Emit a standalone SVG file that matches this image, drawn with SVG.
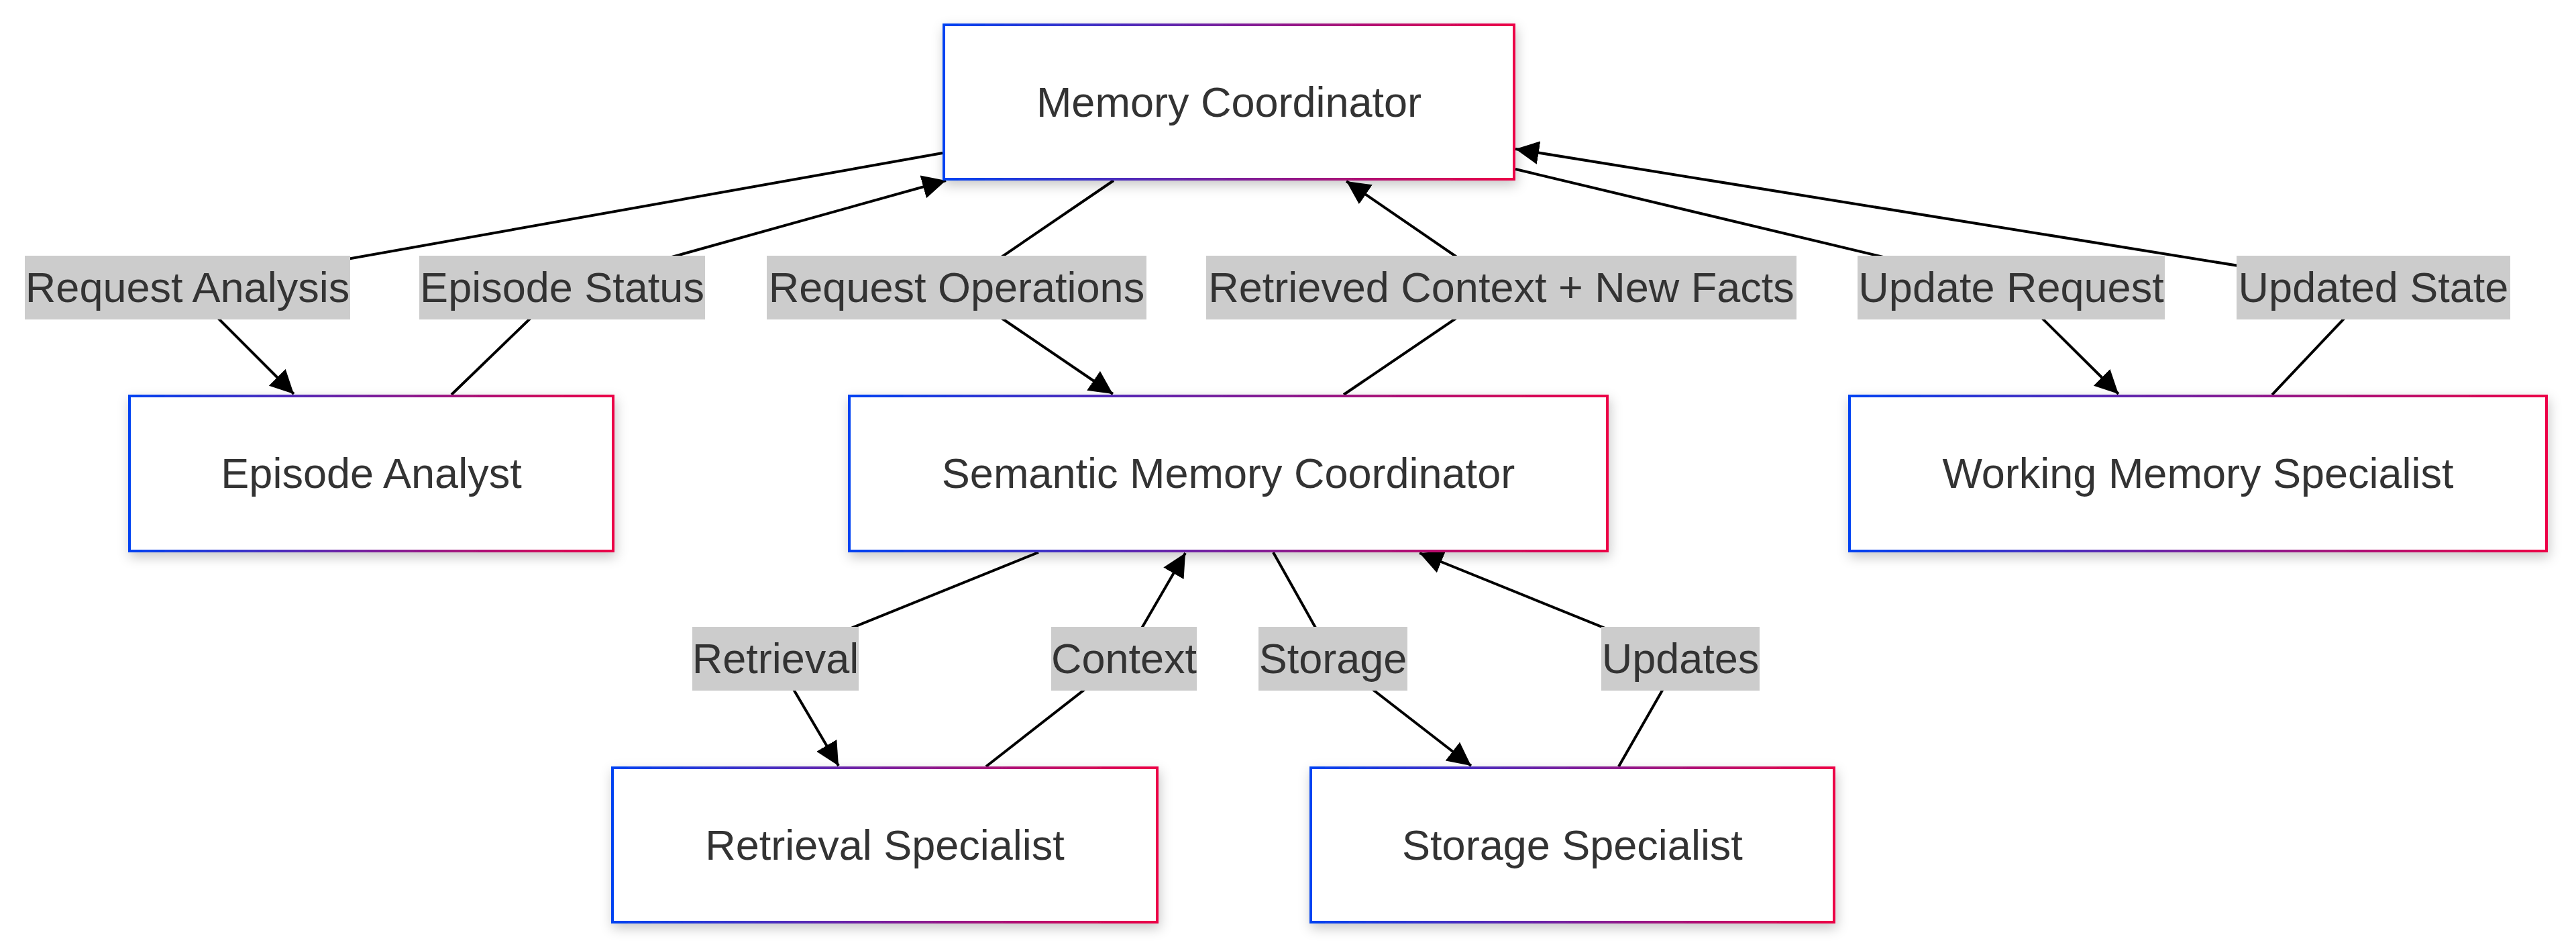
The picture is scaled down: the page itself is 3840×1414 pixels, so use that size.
<svg xmlns="http://www.w3.org/2000/svg" width="3840" height="1414" viewBox="0 0 3840 1414">
  <defs>
    <linearGradient id="grad" x1="0" y1="0" x2="1" y2="0">
      <stop offset="0" stop-color="#0042f2"/>
      <stop offset="0.5" stop-color="#7a1f9c"/>
      <stop offset="1" stop-color="#ec0046"/>
    </linearGradient>
    <filter id="shadow" x="-10%" y="-20%" width="120%" height="150%">
      <feDropShadow dx="2" dy="7" stdDeviation="9" flood-color="#000" flood-opacity="0.22"/>
    </filter>
    <marker id="arrow" viewBox="0 0 10 10" refX="10" refY="5" markerWidth="35" markerHeight="35" markerUnits="userSpaceOnUse" orient="auto">
      <path d="M0,0 L10,5 L0,10 z" fill="#000"/>
    </marker>
  </defs>
  <style>
    .node rect { fill: #ffffff; stroke: url(#grad); stroke-width: 4; filter: url(#shadow); }
    .node text { font-family: "Liberation Sans", Arial, sans-serif; font-size: 63px; fill: #333333; text-anchor: middle; }
    .edge { fill: none; stroke: #000; stroke-width: 4; marker-end: url(#arrow); }
    .label rect { fill: #cccccc; }
    .label text { font-family: "Liberation Sans", Arial, sans-serif; font-size: 63px; fill: #333333; text-anchor: middle; }
  </style>
  <rect x="0" y="0" width="3840" height="1414" fill="#ffffff"/>

  <g id="connectors">
    <path class="edge" d="M1405,228 L279.5,428.5 L438,587"/>
    <path class="edge" d="M673,588 L838,428.5 L1410,269"/>
    <path class="edge" d="M1660,269 L1426,428.5 L1659,587"/>
    <path class="edge" d="M2003,588 L2238,428.5 L2007,270"/>
    <path class="edge" d="M2259,252 L2998,428.5 L3158,587"/>
    <path class="edge" d="M3387,588 L3538,428.5 L2259,222"/>
    <path class="edge" d="M1548,823 L1156,981.5 L1250,1141"/>
    <path class="edge" d="M1470,1142 L1675.5,981.5 L1767,824"/>
    <path class="edge" d="M1898,823 L1987,981.5 L2193,1141"/>
    <path class="edge" d="M2413,1142 L2505,981.5 L2116,824"/>
  </g>

  <g id="edge-labels">
    <g class="label" id="label-request-analysis"><rect x="37" y="381" width="485" height="95"/><text x="279.5" y="450">Request Analysis</text></g>
    <g class="label" id="label-episode-status"><rect x="625" y="381" width="426" height="95"/><text x="838" y="450">Episode Status</text></g>
    <g class="label" id="label-request-operations"><rect x="1143" y="381" width="566" height="95"/><text x="1426" y="450">Request Operations</text></g>
    <g class="label" id="label-retrieved-context"><rect x="1798" y="381" width="880" height="95"/><text x="2238" y="450">Retrieved Context + New Facts</text></g>
    <g class="label" id="label-update-request"><rect x="2769" y="381" width="458" height="95"/><text x="2998" y="450">Update Request</text></g>
    <g class="label" id="label-updated-state"><rect x="3334" y="381" width="408" height="95"/><text x="3538" y="450">Updated State</text></g>
    <g class="label" id="label-retrieval"><rect x="1032" y="934" width="248" height="95"/><text x="1156" y="1003">Retrieval</text></g>
    <g class="label" id="label-context"><rect x="1567" y="934" width="217" height="95"/><text x="1675.5" y="1003">Context</text></g>
    <g class="label" id="label-storage"><rect x="1876" y="934" width="222" height="95"/><text x="1987" y="1003">Storage</text></g>
    <g class="label" id="label-updates"><rect x="2387" y="934" width="236" height="95"/><text x="2505" y="1003">Updates</text></g>
  </g>

  <g class="node" id="memory-coordinator"><rect x="1407" y="37" width="850" height="230"/><text x="1832" y="174">Memory Coordinator</text></g>
  <g class="node" id="episode-analyst"><rect x="193" y="590" width="721" height="231"/><text x="553.5" y="727">Episode Analyst</text></g>
  <g class="node" id="semantic-memory-coordinator"><rect x="1266" y="590" width="1130" height="231"/><text x="1831" y="727">Semantic Memory Coordinator</text></g>
  <g class="node" id="working-memory-specialist"><rect x="2757" y="590" width="1039" height="231"/><text x="3276.5" y="727">Working Memory Specialist</text></g>
  <g class="node" id="retrieval-specialist"><rect x="913" y="1144" width="812" height="230"/><text x="1319" y="1281">Retrieval Specialist</text></g>
  <g class="node" id="storage-specialist"><rect x="1954" y="1144" width="780" height="230"/><text x="2344" y="1281">Storage Specialist</text></g>
</svg>
